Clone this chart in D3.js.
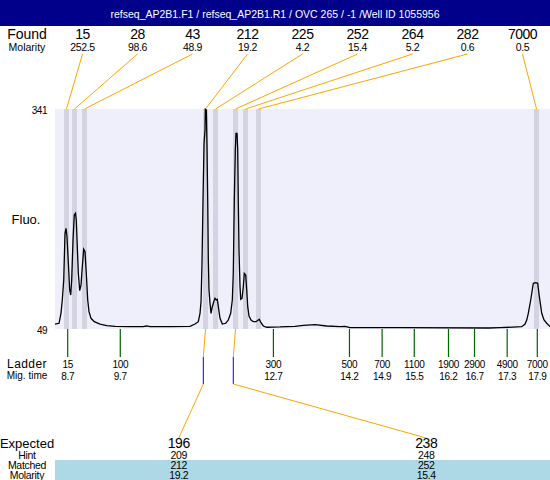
<!DOCTYPE html>
<html>
<head>
<meta charset="utf-8">
<script src="https://cdn.jsdelivr.net/npm/d3@7"></script>
<style>
  body { margin: 0; background: #fff; }
  svg text { font-family: "Liberation Sans", Arial, sans-serif; }
</style>
</head>
<body>
<div id="chart"></div>
<script>
"use strict";

// title
const title = "refseq_AP2B1.F1  / refseq_AP2B1.R1  / OVC 265 / -1  /Well ID 1055956";

// found peaks
const foundSize = [15, 28, 43, 212, 225, 252, 264, 282, 7000];
const foundMolarity = [252.5, 98.6, 48.9, 19.2, 4.2, 15.4, 5.2, 0.6, 0.5];
const foundTime = [8.676, 8.833, 9.029, 11.400, 11.596, 11.988, 12.184, 12.438, 17.885];

// ladder
const ladderSize = [15, 100, 300, 500, 700, 1100, 1900, 2900, 4900, 7000];
const ladderTime = [8.70, 9.73, 12.73, 14.22, 14.86, 15.49, 16.16, 16.67, 17.31, 17.90];

// expected / matched
const expectedSize = [196, 238];
const hintSize = [209, 248];
const matchedSize = [212, 252];
const matchedMolarity = [19.2, 15.4];
const matchedTime = [11.400, 11.988];
const matchedCalTime = [11.357, 11.944];

// y axis labels
const yTicks = [49, 341];

// electropherogram trace (migration time, fluorescence)
const traceTime = [8.451, 8.530, 8.569, 8.594, 8.622, 8.647, 8.667, 8.686, 8.712, 8.739,
  8.759, 8.778, 8.804, 8.829, 8.853, 8.868, 8.888, 8.908, 8.935, 8.961,
  8.986, 9.013, 9.039, 9.064, 9.092, 9.117, 9.156, 9.221, 9.333, 9.464,
  9.627, 9.921, 10.175, 10.248, 10.312, 10.704, 11.096, 11.194, 11.259, 11.292,
  11.312, 11.331, 11.351, 11.371, 11.390, 11.396, 11.416, 11.429, 11.443, 11.455,
  11.468, 11.488, 11.508, 11.533, 11.561, 11.586, 11.611, 11.631, 11.651, 11.684,
  11.729, 11.796, 11.846, 11.893, 11.925, 11.944, 11.964, 11.984, 11.997, 12.017,
  12.031, 12.042, 12.056, 12.076, 12.089, 12.115, 12.140, 12.160, 12.187, 12.207,
  12.227, 12.252, 12.291, 12.336, 12.389, 12.434, 12.454, 12.487, 12.532, 12.599,
  12.860, 13.153, 13.316, 13.545, 13.774, 14.035, 14.133, 14.231, 15.211, 16.955,
  17.170, 17.595, 17.660, 17.693, 17.724, 17.771, 17.822, 17.869, 17.908, 17.940,
  17.987, 18.032, 18.085, 18.149];
const traceFluo = [55.6, 56.6, 70.2, 87.5, 114.0, 176.0, 182.6, 171.5, 136.6, 100.8,
  94.1, 114.0, 167.1, 200.3, 202.6, 193.7, 158.2, 122.9, 99.8, 107.4,
  131.7, 154.8, 151.6, 122.9, 87.5, 72.0, 63.2, 58.7, 55.6, 53.4,
  52.6, 52.1, 52.1, 53.0, 52.1, 52.1, 52.6, 55.6, 58.7, 69.8,
  85.2, 136.2, 220.2, 295.5, 313.1, 340.6, 339.6, 291.0, 220.2, 140.6,
  100.8, 83.1, 69.8, 78.6, 85.2, 89.7, 87.5, 88.4, 78.6, 63.2,
  55.6, 56.6, 60.9, 69.8, 87.5, 122.9, 220.2, 286.6, 308.7, 308.7,
  286.6, 220.2, 153.8, 105.1, 88.4, 89.7, 105.1, 122.9, 120.7, 100.8,
  78.6, 66.3, 60.9, 58.7, 58.7, 60.9, 61.9, 57.4, 53.0, 51.3,
  51.7, 52.6, 53.9, 54.7, 53.0, 52.1, 52.6, 50.7, 50.7, 50.3,
  50.7, 52.1, 55.6, 60.9, 69.8, 87.5, 109.7, 110.5, 109.7, 91.9,
  69.8, 60.9, 56.6, 52.1];

const W = 550, H = 480;
const plot = {left: 55, right: 550, top: 109, bottom: 329};

const svg = d3.select("#chart").append("svg")
  .attr("width", W).attr("height", H);

const x = d3.scaleLinear().domain([8.451, 18.149]).range([plot.left, plot.right]);
const y = d3.scaleLinear().domain([49, 341]).range([plot.bottom, plot.top]);
const col = d3.scaleBand().domain(d3.range(foundSize.length)).range([plot.left, plot.right]);
const expCol = d3.scaleBand().domain(d3.range(expectedSize.length)).range([plot.left, plot.right]);
const fmt1 = d3.format(".1f");

// title bar
svg.append("rect").attr("x", 0).attr("y", 0).attr("width", W).attr("height", 26)
  .attr("fill", "#00008b");
svg.append("text").attr("x", W / 2).attr("y", 17.5)
  .attr("text-anchor", "middle").attr("fill", "#fff")
  .style("font-size", "10.5px").text(title);

// found rows
svg.append("text").attr("x", 27).attr("y", 39).attr("text-anchor", "middle")
  .style("font-size", "14px").text("Found");
svg.append("text").attr("x", 27).attr("y", 50.5).attr("text-anchor", "middle")
  .style("font-size", "10.5px").text("Molarity");
svg.selectAll(".found").data(foundSize).enter().append("text")
  .attr("x", (d, i) => col(i) + col.bandwidth() / 2).attr("y", 39)
  .attr("text-anchor", "middle").style("font-size", "14px")
  .style("letter-spacing", "-0.5px").text(d => d);
svg.selectAll(".fmol").data(foundMolarity).enter().append("text")
  .attr("x", (d, i) => col(i) + col.bandwidth() / 2).attr("y", 50.5)
  .attr("text-anchor", "middle").style("font-size", "10.5px")
  .style("letter-spacing", "-0.4px").text(d => fmt1(d));

// plot background
svg.append("rect").attr("x", plot.left).attr("y", plot.top)
  .attr("width", plot.right - plot.left).attr("height", plot.bottom - plot.top)
  .attr("fill", "#efeffb");

// peak bands
svg.selectAll(".band").data(foundTime).enter().append("rect")
  .attr("x", d => x(d) - 2.5).attr("y", plot.top)
  .attr("width", 5).attr("height", plot.bottom - plot.top)
  .attr("fill", "#d3d3e1");

// connectors from found labels
svg.selectAll(".conn").data(foundTime).enter().append("line")
  .attr("x1", (d, i) => col(i) + col.bandwidth() / 2).attr("y1", 54)
  .attr("x2", d => x(d)).attr("y2", plot.top)
  .attr("stroke", "#ffa500").attr("stroke-width", 1);

// y labels
svg.append("text").attr("x", 47).attr("y", 114).attr("text-anchor", "end")
  .style("font-size", "10px").style("letter-spacing", "-0.5px").text(yTicks[1]);
svg.append("text").attr("x", 47).attr("y", 334).attr("text-anchor", "end")
  .style("font-size", "10px").style("letter-spacing", "-0.5px").text(yTicks[0]);
svg.append("text").attr("x", 26).attr("y", 224).attr("text-anchor", "middle")
  .style("font-size", "13px").text("Fluo.");

// trace
const line = d3.line().x(d => x(d[0])).y(d => y(d[1]));
svg.append("path").datum(d3.zip(traceTime, traceFluo))
  .attr("d", line).attr("fill", "none")
  .attr("stroke", "#000").attr("stroke-width", 1.3);

// ladder ticks
svg.selectAll(".ltick").data(ladderTime).enter().append("line")
  .attr("x1", d => x(d)).attr("x2", d => x(d))
  .attr("y1", plot.bottom).attr("y2", 357)
  .attr("stroke", "#006400").attr("stroke-width", 1.2);
svg.append("text").attr("x", 27).attr("y", 367.5).attr("text-anchor", "middle")
  .style("font-size", "12px").style("letter-spacing", "0.4px").text("Ladder");
svg.append("text").attr("x", 27).attr("y", 379).attr("text-anchor", "middle")
  .style("font-size", "10px").text("Mig. time");
svg.selectAll(".lsize").data(ladderSize).enter().append("text")
  .attr("x", (d, i) => x(ladderTime[i])).attr("y", 367.5)
  .attr("text-anchor", "middle").style("font-size", "10px")
  .style("letter-spacing", "-0.3px").text(d => d);
svg.selectAll(".ltime").data(ladderTime).enter().append("text")
  .attr("x", d => x(d)).attr("y", 380)
  .attr("text-anchor", "middle").style("font-size", "10px")
  .style("letter-spacing", "-0.3px").text(d => fmt1(d));

// matched connectors
matchedTime.forEach((t, i) => {
  const xb = x(matchedCalTime[i]);
  const xe = expCol(i) + expCol.bandwidth() / 2;
  svg.append("path")
    .attr("d", `M${x(t)},${plot.bottom}L${xb},357`)
    .attr("fill", "none").attr("stroke", "#ffa500");
  svg.append("line").attr("x1", xb).attr("x2", xb).attr("y1", 357).attr("y2", 384)
    .attr("stroke", "#0000ff");
  svg.append("path")
    .attr("d", `M${xb},384L${xe},438`)
    .attr("fill", "none").attr("stroke", "#ffa500");
});

// bottom table
svg.append("rect").attr("x", plot.left).attr("y", 460)
  .attr("width", plot.right - plot.left).attr("height", 20)
  .attr("fill", "#add8e6");
const rows = [
  {label: "Expected", vals: expectedSize, y: 448, size: 13, f: d => d},
  {label: "Hint", vals: hintSize, y: 458.5, size: 10.5, f: d => d},
  {label: "Matched", vals: matchedSize, y: 469, size: 10.5, f: d => d},
  {label: "Molarity", vals: matchedMolarity, y: 479, size: 10.5, f: fmt1}
];
rows.forEach(r => {
  svg.append("text").attr("x", 27).attr("y", r.y).attr("text-anchor", "middle")
    .style("font-size", r.size + "px")
    .style("letter-spacing", r.label === "Expected" ? "0px" : "-0.3px")
    .text(r.label);
  svg.selectAll(null).data(r.vals).enter().append("text")
    .attr("x", (d, i) => expCol(i) + expCol.bandwidth() / 2).attr("y", r.y)
    .attr("text-anchor", "middle").style("font-size", (r.label === "Expected" ? 14 : r.size) + "px")
    .style("letter-spacing", "-0.4px").text(r.f);
});
</script>
</body>
</html>
